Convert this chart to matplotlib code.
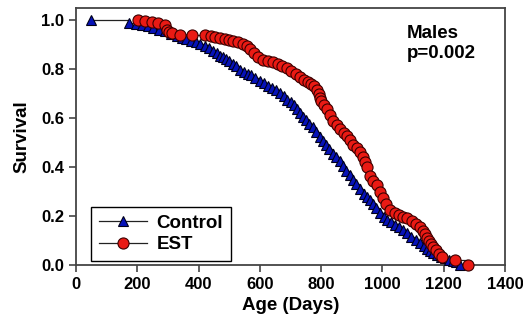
import numpy as np
import matplotlib
matplotlib.use("Agg")
import matplotlib.pyplot as plt

plt.rcParams["font.family"] = ["Liberation Sans", "DejaVu Sans"]
plt.rcParams["font.weight"] = "bold"

# ── Survival data (age in days, surviving fraction) ───────────────────────────
control_age = [50, 173, 195, 215, 235, 251, 270, 290, 310, 330, 345, 359, 375,
               390, 405, 420, 434, 448, 460, 470, 480, 489, 500, 512, 523, 535,
               548, 560, 572, 585, 600, 612, 625, 640, 652, 666, 678, 690, 700,
               710, 720, 731, 742, 752, 762, 772, 784, 796, 806, 816, 826, 839,
               850, 862, 872, 882, 893, 904, 915, 927, 940, 950, 960, 970, 980,
               992, 1004, 1015, 1028, 1040, 1054, 1067, 1080, 1094, 1108, 1123,
               1135, 1146, 1156, 1165, 1178, 1190, 1205, 1218, 1230, 1240, 1253]
control_surv = [1.0, 0.99, 0.985, 0.98, 0.975, 0.97, 0.962, 0.955, 0.945, 0.935,
                0.928, 0.922, 0.915, 0.91, 0.904, 0.895, 0.886, 0.876, 0.865,
                0.855, 0.849, 0.843, 0.835, 0.822, 0.812, 0.798, 0.79, 0.782,
                0.775, 0.762, 0.75, 0.742, 0.733, 0.724, 0.714, 0.703, 0.69,
                0.676, 0.664, 0.652, 0.638, 0.622, 0.606, 0.592, 0.578, 0.563,
                0.543, 0.524, 0.506, 0.49, 0.474, 0.455, 0.44, 0.424, 0.404,
                0.386, 0.368, 0.349, 0.33, 0.31, 0.292, 0.278, 0.264, 0.248,
                0.232, 0.214, 0.198, 0.185, 0.175, 0.165, 0.154, 0.143, 0.13,
                0.115, 0.102, 0.09, 0.077, 0.066, 0.057, 0.049, 0.04, 0.033,
                0.027, 0.022, 0.018, 0.012, 0.0]

est_age = [202, 225, 248, 268, 290, 297, 305, 313, 339, 380, 421, 440, 454, 470,
           486, 500, 512, 528, 545, 557, 568, 580, 594, 610, 625, 643, 658, 673,
           689, 703, 717, 731, 745, 758, 768, 777, 786, 792, 796, 800, 808, 819,
           829, 840, 852, 862, 873, 884, 894, 905, 917, 927, 935, 942, 950, 960,
           970, 982, 992, 1002, 1012, 1025, 1040, 1055, 1068, 1080, 1095, 1110,
           1123, 1133, 1140, 1146, 1152, 1158, 1165, 1175, 1185, 1195, 1237, 1279]
est_surv = [1.0, 0.996, 0.992, 0.988, 0.98, 0.962, 0.951, 0.947, 0.939, 0.939,
            0.939, 0.935, 0.931, 0.926, 0.922, 0.918, 0.914, 0.91, 0.904, 0.893,
            0.882, 0.865, 0.85, 0.838, 0.834, 0.829, 0.822, 0.813, 0.804, 0.794,
            0.782, 0.768, 0.757, 0.748, 0.74, 0.73, 0.716, 0.7, 0.684, 0.668,
            0.652, 0.636, 0.612, 0.59, 0.574, 0.556, 0.54, 0.527, 0.51, 0.492,
            0.476, 0.46, 0.44, 0.42, 0.4, 0.365, 0.345, 0.325, 0.3, 0.275, 0.25,
            0.226, 0.214, 0.205, 0.197, 0.19, 0.18, 0.168, 0.155, 0.14, 0.125,
            0.112, 0.1, 0.087, 0.073, 0.06, 0.045, 0.033, 0.02, 0.0]

x_ticks = [0, 200, 400, 600, 800, 1000, 1200, 1400]
y_ticks = [0.0, 0.2, 0.4, 0.6, 0.8, 1.0]

# ── Plot ──────────────────────────────────────────────────────────────────────
fig = plt.figure(figsize=(5.23, 3.2), dpi=100)
ax = fig.add_axes([0.1453, 0.1719, 0.8203, 0.8031])

ax.plot(control_age, control_surv, drawstyle="steps-post", color="#222222",
        linewidth=0.9, marker="^", markersize=7.5, markerfacecolor="#0612B8",
        markeredgecolor="#00001A", markeredgewidth=0.8, label="Control",
        clip_on=False, zorder=3)
ax.plot(est_age, est_surv, drawstyle="steps-post", color="#222222",
        linewidth=0.9, marker="o", markersize=8, markerfacecolor="#EA1A14",
        markeredgecolor="#3A0000", markeredgewidth=0.8, label="EST",
        clip_on=False, zorder=4)

ax.set_xlim(0, 1400)
ax.set_ylim(0, 1.05)
ax.set_xticks(x_ticks)
ax.set_yticks(y_ticks)
ax.set_yticklabels([f"{v:.1f}" for v in y_ticks])
ax.tick_params(direction="out", length=5, width=1.2, colors="#444444",
               labelcolor="black", labelsize=12)
for lab in ax.get_xticklabels() + ax.get_yticklabels():
    lab.set_fontweight("bold")
for sp in ax.spines.values():
    sp.set_color("#444444")
    sp.set_linewidth(1.3)

ax.set_xlabel("Age (Days)", fontsize=13.5, fontweight="bold", labelpad=4)
ax.set_ylabel("Survival", fontsize=13.5, fontweight="bold", labelpad=8)

ax.text(0.772, 0.935, "Males\np=0.002", transform=ax.transAxes, fontsize=13.5,
        fontweight="bold", va="top", ha="left", linespacing=1.25)

leg = ax.legend(loc="lower left", bbox_to_anchor=(0.035, 0.016), fontsize=13.5,
                borderaxespad=0, handlelength=2.6, fancybox=False, framealpha=1,
                edgecolor="black", borderpad=0.4, labelspacing=0.25,
                handletextpad=0.5)
leg.get_frame().set_linewidth(1.0)
for t in leg.get_texts():
    t.set_fontweight("bold")

fig.savefig("out.png", dpi=100)
